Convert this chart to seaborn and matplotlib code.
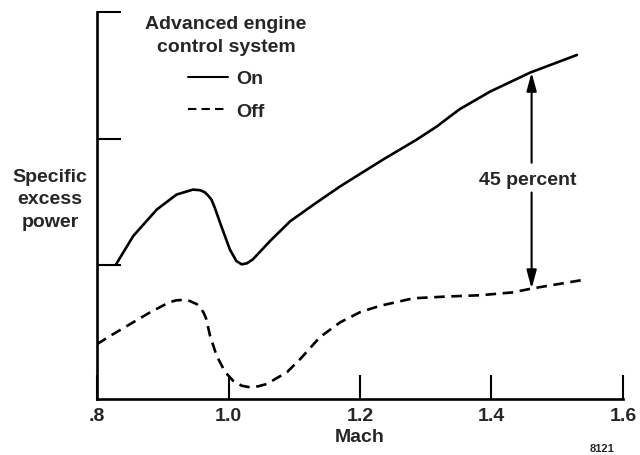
import numpy as np
import pandas as pd
import matplotlib
matplotlib.use('Agg')
import matplotlib.pyplot as plt
import seaborn as sns

# 数据
mach_on = [0.829, 0.855, 0.891, 0.921, 0.946, 0.957, 0.964, 0.969, 0.974, 0.979,
           0.987, 1.002, 1.012, 1.020, 1.028, 1.037, 1.063, 1.094, 1.134, 1.170,
           1.235, 1.286, 1.317, 1.337, 1.352, 1.398, 1.459, 1.530]
power_on = [1.008, 1.231, 1.441, 1.559, 1.598, 1.593, 1.577, 1.551, 1.520, 1.457,
            1.339, 1.126, 1.034, 1.008, 1.016, 1.047, 1.191, 1.349, 1.496, 1.624,
            1.835, 1.992, 2.097, 2.176, 2.234, 2.372, 2.522, 2.661]

mach_off = [0.800, 0.820, 0.850, 0.881, 0.911, 0.921, 0.931, 0.941, 0.952, 0.957,
            0.962, 0.966, 0.972, 0.982, 0.995, 1.007, 1.020, 1.033, 1.045, 1.058,
            1.089, 1.109, 1.139, 1.170, 1.200, 1.230, 1.281, 1.332, 1.383, 1.433,
            1.461, 1.499, 1.545]
power_off = [0.378, 0.443, 0.535, 0.630, 0.711, 0.724, 0.727, 0.719, 0.693, 0.667,
             0.628, 0.580, 0.443, 0.286, 0.157, 0.089, 0.050, 0.037, 0.045, 0.063,
             0.157, 0.260, 0.433, 0.551, 0.630, 0.680, 0.740, 0.754, 0.764, 0.787,
             0.817, 0.850, 0.890]

x_ticks = [0.8, 1.0, 1.2, 1.4, 1.6]
x_tick_labels = ['.8', '1.0', '1.2', '1.4', '1.6']
y_ticks = [1, 2, 3]

# 箭头位置
arrow_mach = 1.461
arrow_top = 2.522
arrow_bottom = 0.817

df = pd.concat([
    pd.DataFrame({'Mach': mach_on, 'power': power_on, 'system': 'On'}),
    pd.DataFrame({'Mach': mach_off, 'power': power_off, 'system': 'Off'}),
], ignore_index=True)

sns.set_style('white')
plt.rcParams['font.family'] = ['Liberation Sans', 'DejaVu Sans']
plt.rcParams['font.weight'] = 'bold'

fig = plt.figure(figsize=(6.4, 4.56), dpi=100)
ax = fig.add_axes([97 / 640, 1 - 400 / 456, 526 / 640, 387 / 456])

sns.lineplot(data=df, x='Mach', y='power', style='system',
             dashes={'On': '', 'Off': (4, 2.5)}, color='black',
             linewidth=1.9, errorbar=None, sort=False, ax=ax)

ax.set_xlim(0.8, 1.6)
ax.set_ylim(-0.055, 3.0)
sns.despine(ax=ax)
for side in ['left', 'bottom']:
    ax.spines[side].set_linewidth(1.9)
    ax.spines[side].set_color('black')

ax.set_xticks(x_ticks)
ax.set_xticklabels(x_tick_labels, fontsize=14, fontweight='bold')
ax.set_yticks(y_ticks)
ax.set_yticklabels([])
ax.tick_params(axis='both', direction='in', length=17, width=1.5,
               color='black', pad=6, bottom=True, left=True)
ax.set_xlabel('Mach', fontsize=14, fontweight='bold', labelpad=3)
ax.set_ylabel('')

# 纵轴标题
fig.text(50 / 640, 1 - 200 / 456, 'Specific\nexcess\npower', ha='center',
         va='center', fontsize=14, fontweight='bold', linespacing=1.45)

# 图例
handles, labels = ax.get_legend_handles_labels()
for h in handles:
    h.set_linewidth(1.5)
    h.set_color('black')
leg = ax.legend(handles, labels, title='Advanced engine\ncontrol system',
                loc='upper center', bbox_to_anchor=(226 / 640, 1 - 6 / 456),
                bbox_transform=fig.transFigure, frameon=False,
                prop={'weight': 'bold', 'size': 14},
                title_fontproperties={'weight': 'bold', 'size': 14},
                handlelength=2.1, handletextpad=0.4, labelspacing=0.75,
                borderpad=0, alignment='center')
leg.get_title().set_multialignment('center')
leg.get_title().set_linespacing(1.5)

# 45 percent 箭头
text_y = 1.677
ax.text(arrow_mach - 0.006, text_y, '45 percent', ha='center', va='center',
        fontsize=14, fontweight='bold')
arrow_kw = dict(arrowstyle='-|>,head_length=1.1,head_width=0.3', color='black',
                lw=1.5, shrinkA=0, shrinkB=0)
ax.annotate('', xy=(arrow_mach, arrow_top), xytext=(arrow_mach, 1.81),
            arrowprops=arrow_kw)
ax.annotate('', xy=(arrow_mach, arrow_bottom), xytext=(arrow_mach, 1.575),
            arrowprops=arrow_kw)

# 右下角图号
fig.text(602 / 640, 1 - 444 / 456, '8121', ha='center', va='top', fontsize=8,
         fontweight='bold')

plt.savefig('out.png', dpi=100)
